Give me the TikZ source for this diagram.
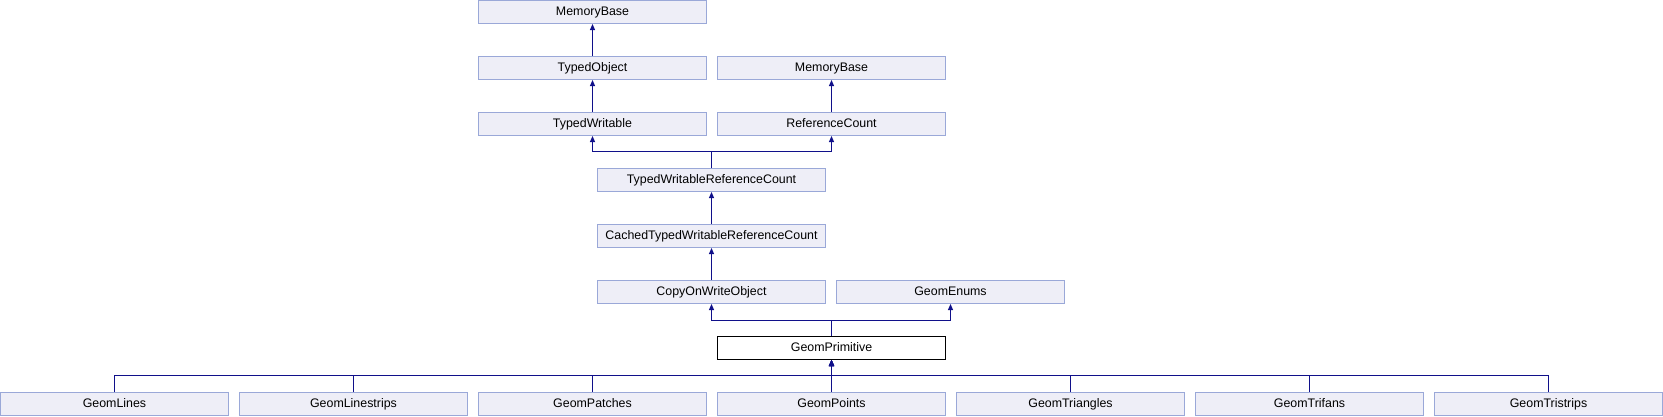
\documentclass[tikz,border=0pt]{standalone}
\usepackage{fontspec}
\setmainfont{Liberation Sans}
\usepackage{tikz}
\usetikzlibrary{arrows.meta}
\definecolor{clsfill}{HTML}{EEEEF7}
\definecolor{clsborder}{HTML}{9AA8D8}
\definecolor{edgeblue}{HTML}{10108A}

\begin{document}
\begin{tikzpicture}[x=1pt, y=-1pt,
		cls/.style={draw=clsborder, fill=clsfill, line width=1pt, minimum width=228pt,
				minimum height=23pt, inner sep=0pt, text height=9pt, text depth=2.6pt,
				font=\fontsize{12.4}{14}\selectfont},
		focus/.style={cls, draw=black, fill=white},
		edge/.style={draw=edgeblue, line width=1pt, -{Triangle[length=6pt, width=5pt]}}]
	\useasboundingbox (0,0) rectangle (1663,416);

	% --- Bases ---
	\node[cls] (mb1)  at (592.5, 12) {MemoryBase};
	\node[cls] (tobj) at (592.5, 68) {TypedObject};
	\node[cls] (mb2)  at (831.5, 68) {MemoryBase};
	\node[cls] (tw)   at (592.5, 124) {TypedWritable};
	\node[cls] (rc)   at (831.5, 124) {ReferenceCount};
	\node[cls] (twrc) at (711.5, 180) {TypedWritableReferenceCount};
	\node[cls] (ctw)  at (711.5, 236) {CachedTypedWritableReferenceCount};
	\node[cls] (cow)  at (711.5, 292) {CopyOnWriteObject};
	\node[cls] (gen)  at (950.5, 292) {GeomEnums};

	% --- Clase central ---
	\node[focus] (prim) at (831.5, 348) {GeomPrimitive};

	% --- Derivadas ---
	\foreach \nm/\lbl [count=\i from 0] in {lines/GeomLines, lstrips/GeomLinestrips,
			patches/GeomPatches, points/GeomPoints, tris/GeomTriangles,
			fans/GeomTrifans, tstrips/GeomTristrips}{
			\node[cls] (\nm) at (114.5+239*\i, 404) {\lbl};
		}

	% Herencia
	\draw[edge] (tobj.north) -- (mb1.south);
	\draw[edge] (tw.north) -- (tobj.south);
	\draw[edge] (rc.north) -- (mb2.south);
	\draw[edge] (twrc.north) -- ++(0,-16.5) -| (tw.south);
	\draw[edge] (twrc.north) -- ++(0,-16.5) -| (rc.south);
	\draw[edge] (ctw.north) -- (twrc.south);
	\draw[edge] (cow.north) -- (ctw.south);
	\draw[edge] (prim.north) -- ++(0,-16) -| (cow.south);
	\draw[edge] (prim.north) -- ++(0,-16) -| (gen.south);
	\foreach \nm in {lines, lstrips, patches, points, tris, fans, tstrips}{
			\draw[edge] (\nm.north) -- ++(0,-16.5) -| (prim.south);
		}
\end{tikzpicture}
\end{document}
